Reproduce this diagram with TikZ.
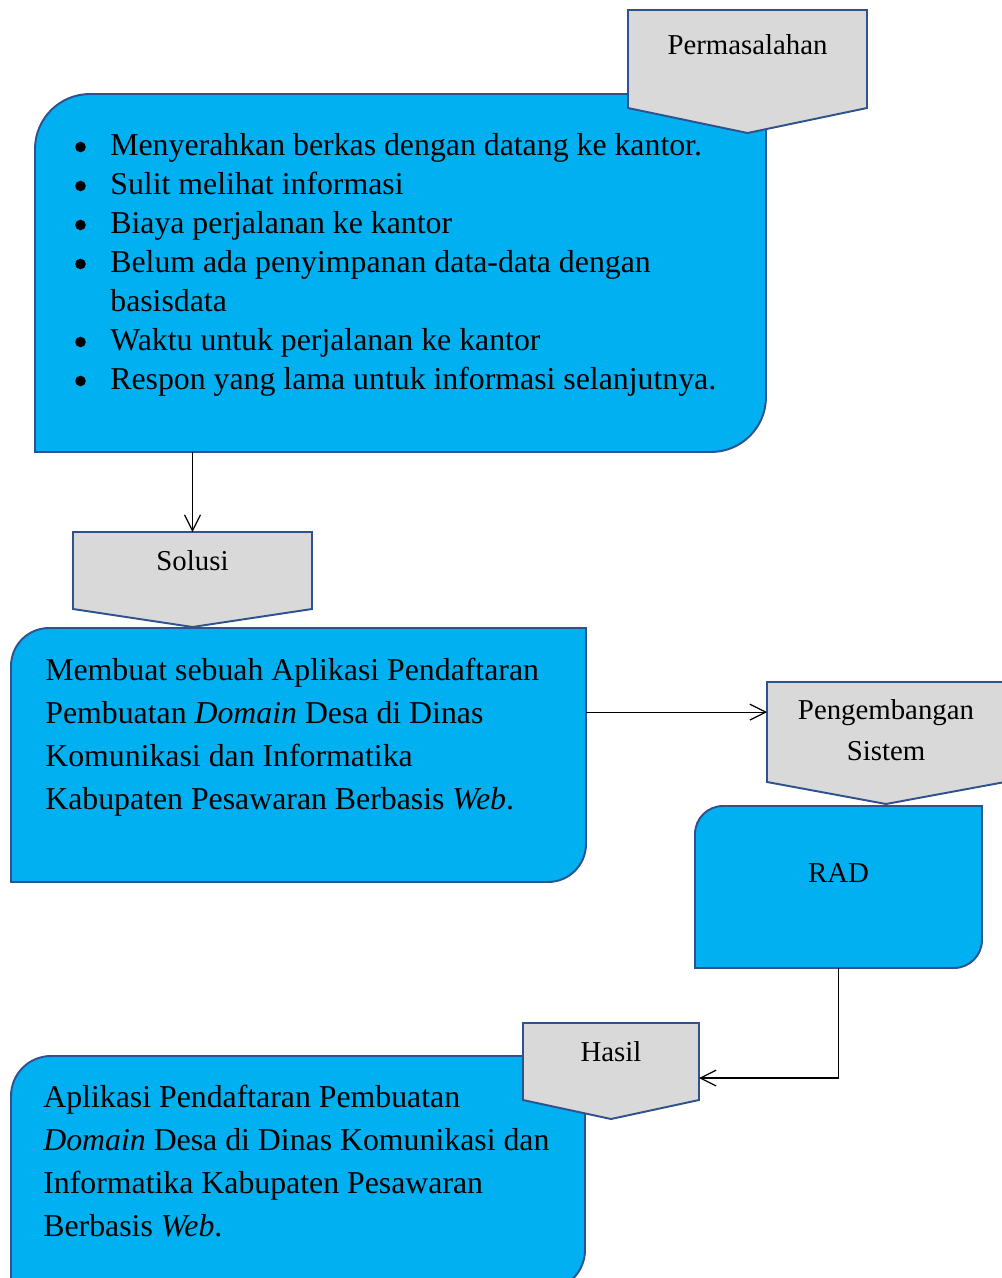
\documentclass[tikz,border=0pt]{standalone}
\usepackage{fontspec}
\setmainfont{Liberation Serif}
\usetikzlibrary{arrows.meta,positioning,fit}
\definecolor{boxblue}{HTML}{00B0F0}
\definecolor{boxline}{HTML}{2F528F}
\definecolor{taggrey}{HTML}{D9D9D9}

\begin{document}
\begin{tikzpicture}[x=0.02cm, y=-0.02cm,
      bluebox/.style={draw=boxline, fill=boxblue, line width=1.1pt},
      tagbox/.style={draw=boxline, fill=taggrey, line width=1.1pt},
      boxfit/.style={inner sep=0pt, outer sep=0pt},
      bodytxt/.style={font=\fontsize{18.1}{22}\selectfont, inner sep=0pt, anchor=base west},
      tagtxt/.style={font=\fontsize{16.4}{20}\selectfont, inner sep=0pt, anchor=base},
      arr/.style={-{Straight Barb[length=9pt, width=9pt]}, line width=0.7pt}]
    \useasboundingbox (0,0) rectangle (1001,1278);
    % problem box and its tag
    \draw[bluebox] (35,452) -- (35,149) arc[start angle=180, end angle=270, radius=55]
      -- (766,94) -- (766,397) arc[start angle=0, end angle=90, radius=55] -- cycle;
    \node[boxfit, fit={(35,94) (766,452)}] (masalah) {};
    \draw[tagbox] (628,10) -- (867,10) -- (867,108) -- (747.5,133) -- (628,108) -- cycle;
    \node[boxfit, fit={(628,10) (867,133)}] (masalahtag) {};
    \node[tagtxt] (masalahlbl) at (747.5,54) {Permasalahan};
    % solution tag and box
    \draw[tagbox] (73,532) -- (312,532) -- (312,609) -- (192.5,627) -- (73,609) -- cycle;
    \node[boxfit, fit={(73,532) (312,627)}] (solusitag) {};
    \node[tagtxt] (solusilbl) at (192.5,570) {Solusi};
    \draw[bluebox] (11,882) -- (11,666) arc[start angle=180, end angle=270, radius=38]
      -- (586,628) -- (586,844) arc[start angle=0, end angle=90, radius=38] -- cycle;
    \node[boxfit, fit={(11,628) (586,882)}] (solusi) {};
    % system development tag and RAD box
    \draw[tagbox] (767,682) -- (1005,682) -- (1005,782) -- (886,804) -- (767,782) -- cycle;
    \node[boxfit, fit={(767,682) (1005,804)}] (pengtag) {};
    \node[tagtxt] (peng1) at (886,719) {Pengembangan};
    \node[tagtxt] (peng2) at (886,760) {Sistem};
    \draw[bluebox] (695,968) -- (695,834) arc[start angle=180, end angle=270, radius=28]
      -- (982,806) -- (982,940) arc[start angle=0, end angle=90, radius=28] -- cycle;
    \node[boxfit, fit={(695,806) (982,968)}] (rad) {};
    \node[tagtxt] (radlbl) at (838.5,882) {RAD};
    % result box and its tag
    \draw[bluebox] (11,1290) -- (11,1096) arc[start angle=180, end angle=270, radius=40]
      -- (585,1056) -- (585,1250) arc[start angle=0, end angle=90, radius=40] -- cycle;
    \node[boxfit, fit={(11,1056) (585,1278)}] (hasil) {};
    \draw[tagbox] (523,1023) -- (699,1023) -- (699,1100) -- (611,1119) -- (523,1100) -- cycle;
    \node[boxfit, fit={(523,1023) (699,1119)}] (hasiltag) {};
    \node[tagtxt] (hasillbl) at (611,1061) {Hasil};
    % texts
    \foreach \txt [count=\i from 0] in {Menyerahkan berkas dengan datang ke kantor.,
        Sulit melihat informasi, Biaya perjalanan ke kantor,
        Belum ada penyimpanan data-data dengan, basisdata,
        Waktu untuk perjalanan ke kantor, Respon yang lama untuk informasi selanjutnya.} {
      \node[bodytxt] (mtxt\i) at (110,155+39*\i) {\txt};
    }
    \foreach \i in {0,1,2,3,5,6} {
      \fill (80.5,147+39*\i) circle[radius=5.3];
    }
    \foreach \txt [count=\i from 0] in {Membuat sebuah Aplikasi Pendaftaran,
        Pembuatan \textit{Domain} Desa di Dinas, Komunikasi dan Informatika,
        Kabupaten Pesawaran Berbasis \textit{Web}.} {
      \node[bodytxt] (stxt\i) at (45,680+43*\i) {\txt};
    }
    \foreach \txt [count=\i from 0] in {Aplikasi Pendaftaran Pembuatan,
        \textit{Domain} Desa di Dinas Komunikasi dan, Informatika Kabupaten Pesawaran,
        Berbasis \textit{Web}.} {
      \node[bodytxt] (htxt\i) at (43,1107+43*\i) {\txt};
    }
    % connectors
    \coordinate (hasilin) at (699,1078);
    \draw[arr] (masalah.south -| solusitag.north) -- (solusitag.north);
    \draw[arr] (solusi.east |- peng1.center) -- (pengtag.west |- peng1.center);
    \draw[arr] (rad.south) |- (hasilin);
  \end{tikzpicture}
\end{document}
